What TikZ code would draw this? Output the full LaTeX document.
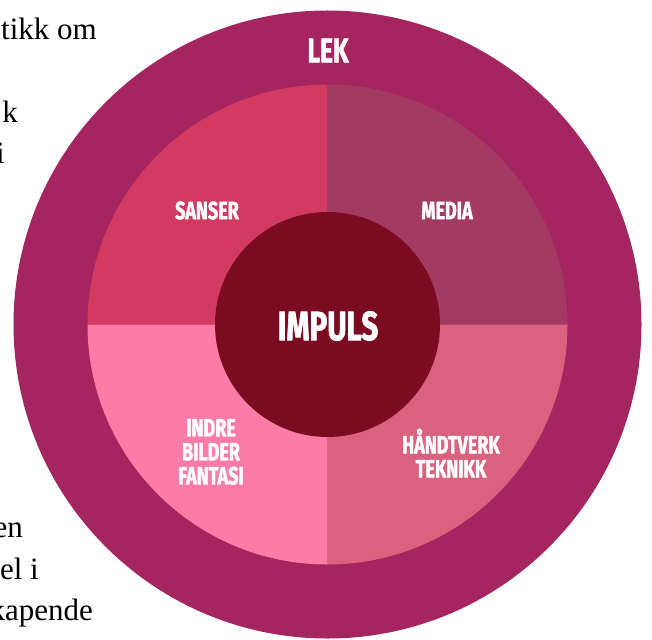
\documentclass[tikz,border=0pt]{standalone}
\usepackage{fontspec}
\setmainfont{Liberation Serif}
\newfontfamily\lbl[FakeStretch=0.72,BoldFeatures={FakeBold=1.6}]{Fira Sans}
\definecolor{ringc}{RGB}{164,37,95}
\definecolor{sansc}{RGB}{211,58,98}
\definecolor{mediac}{RGB}{163,58,98}
\definecolor{indrec}{RGB}{252,124,167}
\definecolor{handc}{RGB}{218,98,126}
\definecolor{impc}{RGB}{123,11,32}
\tikzset{
  lab/.style={text=white, inner sep=0pt, align=center, font=\lbl\bfseries\fontsize{25}{24}\selectfont},
  side/.style={text=black, inner sep=0pt, anchor=base east, font=\fontsize{31}{35}\selectfont}
}
\begin{document}
\begin{tikzpicture}[x=1pt,y=1pt]
\useasboundingbox (0,0) rectangle (652,-639);
\coordinate (c) at (327.5,-324.5);
% outer ring
\fill[ringc] (c) circle[radius=314];
% quadrants
\fill[sansc] (c) -- ++(-240,0) arc[start angle=180,end angle=90,radius=240] -- cycle;
\fill[mediac] (c) -- ++(0,240) arc[start angle=90,end angle=0,radius=240] -- cycle;
\fill[handc] (c) -- ++(240,0) arc[start angle=0,end angle=-90,radius=240] -- cycle;
\fill[indrec] (c) -- ++(0,-240) arc[start angle=270,end angle=180,radius=240] -- cycle;
% centre
\fill[impc] (c) circle[radius=112.5];
% labels
\node[lab, font=\lbl\bfseries\fontsize{34}{34}\selectfont] (lek) at (328,-50.5) {LEK};
\node[lab] (sanser) at (207,-210.5) {SANSER};
\node[lab] (media) at (447,-210.5) {MEDIA};
\node[lab, font=\lbl\bfseries\fontsize{41}{41}\selectfont] (impuls) at (328,-326) {IMPULS};
\node[lab] (indre) at (211,-452) {INDRE\\BILDER\\FANTASI};
\node[lab] (hand) at (451,-453) {HÅNDTVERK\\TEKNIKK};
% side text fragments
\node[side] (t1) at (97,-40) {tikk om};
\node[side] (t2) at (18,-123) {k};
\node[side] (t3) at (5,-164) {i};
\node[side] (t4) at (23,-537) {en};
\node[side] (t5) at (39,-579) {el i};
\node[side] (t6) at (93,-620) {kapende};
\end{tikzpicture}
\end{document}
